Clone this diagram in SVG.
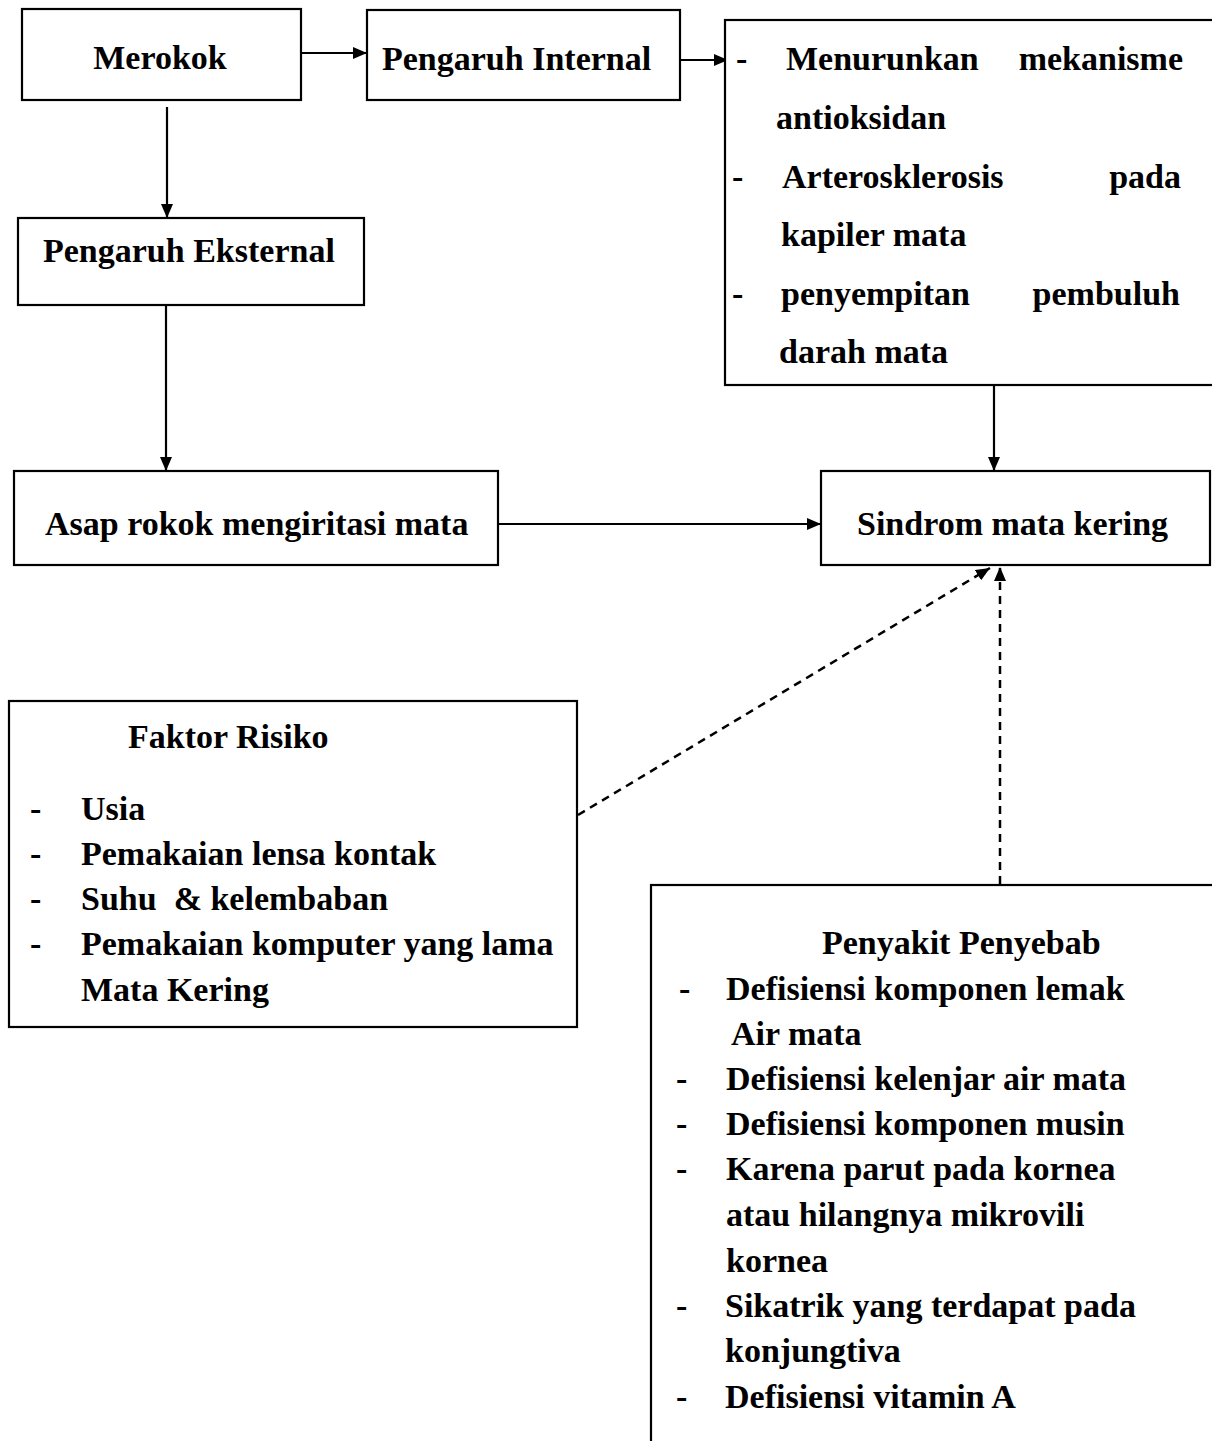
<svg xmlns="http://www.w3.org/2000/svg" width="1212" height="1441" viewBox="0 0 1212 1441">
<style>
.box{fill:#fff;stroke:#000;stroke-width:2.2}
.t{font-family:"Liberation Serif","Times New Roman",serif;font-weight:bold;font-size:34px;fill:#000}
.c{stroke:#000;stroke-width:2.2;fill:none}
.d{stroke:#000;stroke-width:2.5;fill:none;stroke-dasharray:8 6}
</style>
<defs>
<marker id="ah" viewBox="0 0 14 12" refX="14" refY="6" markerWidth="14" markerHeight="12" markerUnits="userSpaceOnUse" orient="auto">
<path d="M0,0 L14,6 L0,12 z" fill="#000"/>
</marker>
</defs>
<rect width="1212" height="1441" fill="#fff"/>
<g id="connectors">
<line class="c" x1="302" y1="53" x2="367" y2="53" marker-end="url(#ah)"/>
<line class="c" x1="681" y1="60" x2="728" y2="60" marker-end="url(#ah)"/>
<line class="c" x1="167" y1="107" x2="167" y2="218" marker-end="url(#ah)"/>
<line class="c" x1="166" y1="306" x2="166" y2="471" marker-end="url(#ah)"/>
<line class="c" x1="994" y1="386" x2="994" y2="471" marker-end="url(#ah)"/>
<line class="c" x1="499" y1="524" x2="821" y2="524" marker-end="url(#ah)"/>
<line class="d" x1="578" y1="815" x2="990" y2="568" marker-end="url(#ah)"/>
<line class="d" x1="1000" y1="884" x2="1000" y2="567" marker-end="url(#ah)"/>
</g>
<g id="merokok">
<rect class="box" x="22" y="9" width="279" height="91"/>
<text class="t" x="160" y="69" text-anchor="middle">Merokok</text>
</g>
<g id="pengaruh-internal">
<rect class="box" x="367" y="10" width="313" height="90"/>
<text class="t" x="382" y="70">Pengaruh Internal</text>
</g>
<g id="internal-effects">
<rect class="box" x="725" y="20" width="500" height="365"/>
<text class="t" x="736" y="70">-</text>
<text class="t" x="786" y="70">Menurunkan</text>
<text class="t" x="1183" y="70" text-anchor="end">mekanisme</text>
<text class="t" x="776" y="129">antioksidan</text>
<text class="t" x="732" y="188">-</text>
<text class="t" x="782" y="188">Arterosklerosis</text>
<text class="t" x="1181" y="188" text-anchor="end">pada</text>
<text class="t" x="781" y="246">kapiler mata</text>
<text class="t" x="732" y="305">-</text>
<text class="t" x="781" y="305">penyempitan</text>
<text class="t" x="1180" y="305" text-anchor="end">pembuluh</text>
<text class="t" x="779" y="363">darah mata</text>
</g>
<g id="pengaruh-eksternal">
<rect class="box" x="18" y="218" width="346" height="87"/>
<text class="t" x="43" y="262">Pengaruh Eksternal</text>
</g>
<g id="asap">
<rect class="box" x="14" y="471" width="484" height="94"/>
<text class="t" x="45" y="535">Asap rokok mengiritasi mata</text>
</g>
<g id="sindrom">
<rect class="box" x="821" y="471" width="389" height="94"/>
<text class="t" x="857" y="535">Sindrom mata kering</text>
</g>
<g id="faktor-risiko">
<rect class="box" x="9" y="701" width="568" height="326"/>
<text class="t" x="128" y="748">Faktor Risiko</text>
<text class="t" x="30" y="820">-</text>
<text class="t" x="81" y="820">Usia</text>
<text class="t" x="30" y="865">-</text>
<text class="t" x="81" y="865">Pemakaian lensa kontak</text>
<text class="t" x="30" y="910">-</text>
<text class="t" x="81" y="910" xml:space="preserve">Suhu  &amp; kelembaban</text>
<text class="t" x="30" y="955">-</text>
<text class="t" x="81" y="955">Pemakaian komputer yang lama</text>
<text class="t" x="81" y="1001">Mata Kering</text>
</g>
<g id="penyakit-penyebab">
<rect class="box" x="651" y="885" width="600" height="600"/>
<text class="t" x="822" y="954">Penyakit Penyebab</text>
<text class="t" x="679" y="1000">-</text>
<text class="t" x="726" y="1000">Defisiensi komponen lemak</text>
<text class="t" x="731" y="1045">Air mata</text>
<text class="t" x="676" y="1090">-</text>
<text class="t" x="726" y="1090">Defisiensi kelenjar air mata</text>
<text class="t" x="676" y="1135">-</text>
<text class="t" x="726" y="1135">Defisiensi komponen musin</text>
<text class="t" x="676" y="1180">-</text>
<text class="t" x="726" y="1180">Karena parut pada kornea</text>
<text class="t" x="726" y="1226">atau hilangnya mikrovili</text>
<text class="t" x="726" y="1272">kornea</text>
<text class="t" x="676" y="1317">-</text>
<text class="t" x="725" y="1317">Sikatrik yang terdapat pada</text>
<text class="t" x="725" y="1362">konjungtiva</text>
<text class="t" x="676" y="1408">-</text>
<text class="t" x="725" y="1408">Defisiensi vitamin A</text>
</g>
</svg>
